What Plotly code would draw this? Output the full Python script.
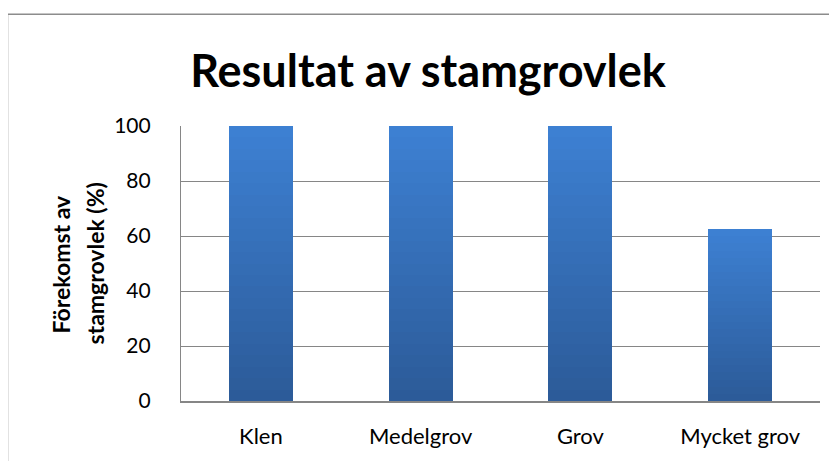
import plotly.graph_objects as go
import numpy as np

categories = ["Klen", "Medelgrov", "Grov", "Mycket grov"]
values = [100, 100, 100, 62.5]
y_ticks = [0, 20, 40, 60, 80, 100]

title_text = "Resultat av stamgrovlek"
y_title_lines = ["Förekomst av", "stamgrovlek (%)"]

OFF = 8  # page body margin
W, H = 837 - OFF, 461 - OFF
ml, mr, mt, mb = 181 - OFF, 17, 126 - OFF, 58
pw, ph = W - ml - mr, H - mt - mb

def px_x(x):  # page x -> paper
    return (x - OFF - ml) / pw

def px_y(y):  # page y -> paper
    return (H - mb - (y - OFF)) / ph

N = 24
top = np.array([0x3d, 0x80, 0xd2])
bot = np.array([0x2c, 0x5b, 0x99])
fig = go.Figure()
for i in range(N):
    t = i / (N - 1)
    c = bot + (top - bot) * t
    col = "rgb(%d,%d,%d)" % tuple(int(round(v)) for v in c)
    fig.add_trace(go.Bar(
        x=categories, y=[v / N for v in values],
        marker=dict(color=col, line=dict(width=0)),
        showlegend=False, hoverinfo="skip",
    ))

ann = []
for xline, txt in zip([60, 94], y_title_lines):
    ann.append(dict(text="<b>%s</b>" % txt, textangle=-90, xref="paper", yref="paper",
                    x=px_x(xline), y=0.5, xanchor="center", yanchor="middle", showarrow=False,
                    font=dict(size=23, family="Lato, sans-serif", color="black")))

fig.update_layout(
    width=W, height=H,
    barmode="stack", bargap=0.6,
    margin=dict(l=ml, r=mr, t=mt, b=mb),
    paper_bgcolor="white", plot_bgcolor="white",
    font=dict(family="Lato, 'Open Sans', sans-serif", color="black", size=21),
    title=dict(text="<b>%s</b>" % title_text, x=px_x(428), xref="paper", xanchor="center",
               y=(H - (71 - OFF)) / H, yanchor="middle",
               font=dict(size=45, family="Lato, sans-serif", color="black")),
    xaxis=dict(showline=True, linecolor="#868686", linewidth=1.5, ticks="",
               tickfont=dict(size=22), ticklabelstandoff=15),
    yaxis=dict(range=[0, 100], tickvals=y_ticks, showgrid=True, gridcolor="#868686",
               gridwidth=1.2, showline=True, linecolor="#868686", linewidth=1.2,
               ticks="", zeroline=False, tickfont=dict(size=21), ticklabelstandoff=25),
    annotations=ann,
    shapes=[dict(type="rect", xref="paper", yref="paper",
                 x0=px_x(7.5), x1=px_x(870), y0=px_y(500), y1=px_y(13.5),
                 line=dict(color="#8c8c8c", width=1.5), fillcolor="rgba(0,0,0,0)", layer="below")],
)

fig.write_html("out.html")
